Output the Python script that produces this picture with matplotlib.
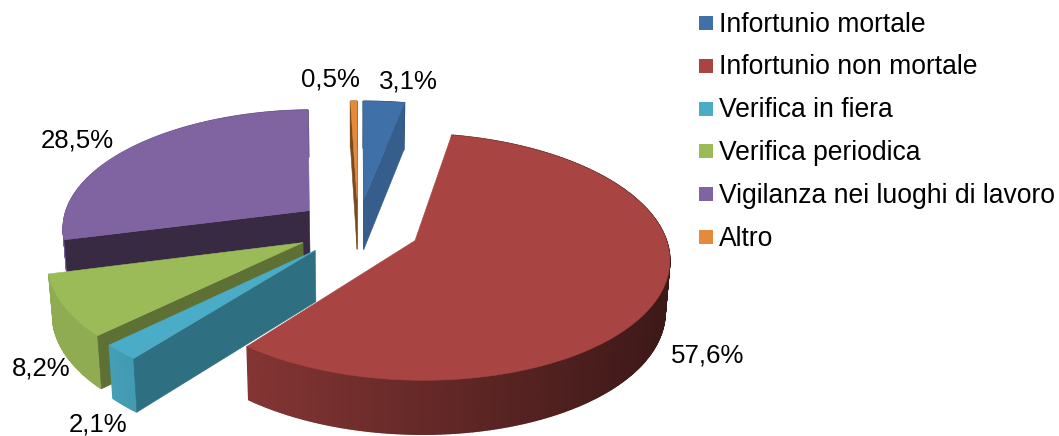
import numpy as np
import matplotlib
matplotlib.use('Agg')
import matplotlib.pyplot as plt
from matplotlib.colors import to_rgb
from matplotlib.patches import Polygon, Rectangle

# Chart data
categories = ['Infortunio mortale', 'Infortunio non mortale', 'Verifica in fiera',
              'Verifica periodica', 'Vigilanza nei luoghi di lavoro', 'Altro']
values = [3.1, 57.6, 2.1, 8.2, 28.5, 0.5]
value_labels = ['3,1%', '57,6%', '2,1%', '8,2%', '28,5%', '0,5%']

# Styling
top_colors = ['#4070A8', '#A84442', '#4AACC6', '#9BBB59', '#8064A2', '#E58A3C']
wall_colors = ['#365E8C', '#6E2A28', '#2E6F82', '#5F7035', '#372A42', '#7A4A1D']
label_xy = [(408, 81), (708, 355), (98, 424), (41, 368), (77, 140), (330, 80)]
draw_order = [4, 5, 0, 1, 3, 2]

# Projection of the tilted pie, in pixels
cx, cy = 358, 228
rx, ry = 248, 118
persp = 0.13
explode = 0.25


def project(px, py, bottom=False):
    s = 1 / (1 - persp * py)
    x = rx * px * s
    y = ry * py * s
    if bottom:
        return cx + x * 0.985, cy + y + 50.7 + 3 * py
    return cx + x, cy + y


def shade(color, x):
    f = np.clip(0.78 - (x - 250) * 0.001, 0.36, 0.92)
    return tuple(c * f for c in to_rgb(color))


plt.rcParams['font.family'] = ['Liberation Sans', 'DejaVu Sans']
fig = plt.figure(figsize=(10.59, 4.36), dpi=100)
ax = fig.add_axes([0, 0, 1, 1])
ax.set_xlim(0, 1059)
ax.set_ylim(436, 0)
ax.axis('off')

# Angles run clockwise from the top of the pie
edges = np.cumsum([0] + values) / sum(values) * 2 * np.pi

z = 1
for i in draw_order:
    a0, a1 = edges[i], edges[i + 1]
    mid = (a0 + a1) / 2
    ox, oy = explode * np.sin(mid), -explode * np.cos(mid)
    angles = np.linspace(a0, a1, max(2 * int(np.degrees(a1 - a0)), 2) + 1)
    arc_x = ox + np.sin(angles)
    arc_y = oy - np.cos(angles)

    apex_top = project(ox, oy)
    apex_bot = project(ox, oy, True)
    mid_top = project(ox + np.sin(mid), oy - np.cos(mid))

    # Outer wall, darker towards the right
    for j in range(len(angles) - 1):
        quad = [project(arc_x[j], arc_y[j]), project(arc_x[j + 1], arc_y[j + 1]),
                project(arc_x[j + 1], arc_y[j + 1], True), project(arc_x[j], arc_y[j], True)]
        col = shade(top_colors[i], quad[0][0])
        ax.add_patch(Polygon(quad, closed=True, facecolor=col, edgecolor=col,
                             lw=1.0, zorder=z))
    z += 1

    # Radial walls, only when the wall hangs outside the top surface
    for k in [0, -1]:
        outer = project(arc_x[k], arc_y[k])
        ex, ey = outer[0] - apex_top[0], outer[1] - apex_top[1]
        inner_side = ex * (mid_top[1] - apex_top[1]) - ey * (mid_top[0] - apex_top[0])
        if ex * inner_side > 0:
            continue
        wall = [apex_top, outer, project(arc_x[k], arc_y[k], True), apex_bot]
        ax.add_patch(Polygon(wall, closed=True, facecolor=wall_colors[i],
                             edgecolor=wall_colors[i], lw=0.4, zorder=z))
    z += 1

    # Top surface
    top = [apex_top] + [project(px, py) for px, py in zip(arc_x, arc_y)]
    ax.add_patch(Polygon(top, closed=True, facecolor=top_colors[i],
                         edgecolor=top_colors[i], lw=0.4, zorder=z))
    z += 1

# Percentage labels
for text, (x, y) in zip(value_labels, label_xy):
    ax.text(x, y, text, fontsize=18.6, color='black', ha='center', va='center', zorder=z)

# Legend
for i, name in enumerate(categories):
    y = 23 + i * 42.8
    ax.add_patch(Rectangle((699, y - 7), 14, 14, facecolor=top_colors[i], edgecolor='none', zorder=z))
    ax.text(719, y + 1.5, name, fontsize=19.1, color='black', ha='left', va='center', zorder=z)

fig.savefig('out.png', dpi=100)
